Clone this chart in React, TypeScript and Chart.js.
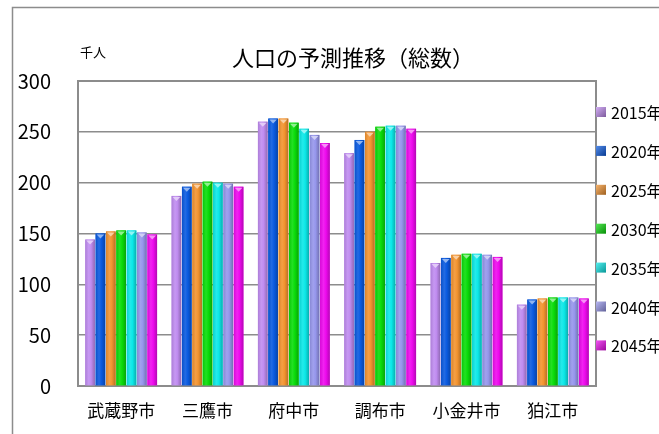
import React, { useEffect, useRef } from "react";
import { Chart, registerables } from "chart.js";

Chart.register(...registerables);

const categories = ["武蔵野市", "三鷹市", "府中市", "調布市", "小金井市", "狛江市"];
const seriesLabels = ["2015年", "2020年", "2025年", "2030年", "2035年", "2040年", "2045年"];
const v2015 = [144, 187, 260, 229, 121, 80];
const v2020 = [150, 196, 263, 242, 126, 85];
const v2025 = [152, 199, 263, 250, 129, 86];
const v2030 = [153, 201, 259, 255, 130, 87];
const v2035 = [153, 200, 253, 256, 130, 87];
const v2040 = [151, 199, 247, 256, 129, 87];
const v2045 = [149, 196, 239, 253, 127, 86];
const seriesValues = [v2015, v2020, v2025, v2030, v2035, v2040, v2045];
const seriesColors = ["#C08CF0", "#0A5AE0", "#F39430", "#0ADC0A", "#0CE8E8", "#9696EC", "#EE0AEE"];
const yTicks = [0, 50, 100, 150, 200, 250, 300];
const titleText = "人口の予測推移（総数）";
const unitText = "千人";

const FONT = "'Noto Sans CJK JP', 'Noto Sans', sans-serif";

function shade(hex: string, f: number) {
  const n = parseInt(hex.slice(1), 16);
  let r = (n >> 16) & 255, g = (n >> 8) & 255, b = n & 255;
  if (f < 0) { r = r * (1 + f); g = g * (1 + f); b = b * (1 + f); }
  else { r = r + (255 - r) * f; g = g + (255 - g) * f; b = b + (255 - b) * f; }
  return `rgb(${Math.round(r)},${Math.round(g)},${Math.round(b)})`;
}

const decorPlugin = {
  id: "decor",
  beforeDraw(chart: any) {
    const ctx = chart.ctx;
    ctx.save();
    ctx.fillStyle = "#ffffff";
    ctx.fillRect(0, 0, chart.width, chart.height);
    ctx.strokeStyle = "#8c8c8c";
    ctx.lineWidth = 1.5;
    ctx.beginPath();
    ctx.moveTo(12.5, chart.height);
    ctx.lineTo(12.5, 7.5);
    ctx.lineTo(chart.width, 7.5);
    ctx.stroke();
    ctx.restore();
  },
  beforeDatasetsDraw(chart: any) {
    const ctx = chart.ctx;
    const a = chart.chartArea;
    ctx.save();
    ctx.strokeStyle = "#8c8c8c";
    ctx.lineWidth = 2;
    ctx.strokeRect(a.left, a.top, a.right - a.left, a.bottom - a.top);
    ctx.restore();
  },
  afterDatasetsDraw(chart: any) {
    const ctx = chart.ctx;
    ctx.save();
    chart.data.datasets.forEach((ds: any, i: number) => {
      const meta = chart.getDatasetMeta(i);
      const col = ds.backgroundColor as string;
      meta.data.forEach((el: any) => {
        const w = el.width;
        const l = el.x - w / 2;
        const top = el.y;
        const bottom = el.base;
        const g = ctx.createLinearGradient(l, 0, l + w, 0);
        g.addColorStop(0, shade(col, -0.1));
        g.addColorStop(0.35, shade(col, 0.1));
        g.addColorStop(0.6, col);
        g.addColorStop(1, shade(col, -0.25));
        ctx.fillStyle = g;
        ctx.fillRect(l, top, w, bottom - top);
        ctx.fillStyle = shade(col, 0.55);
        ctx.beginPath();
        ctx.moveTo(l + 1, top + 1);
        ctx.lineTo(l + w - 1, top + 1);
        ctx.lineTo(el.x, top + 5);
        ctx.closePath();
        ctx.fill();
      });
    });
    ctx.restore();
  },
  afterDraw(chart: any) {
    const ctx = chart.ctx;
    ctx.save();
    ctx.fillStyle = "#000";
    ctx.textBaseline = "middle";
    ctx.textAlign = "center";
    ctx.font = `22px ${FONT}`;
    ctx.fillText(titleText, 353, 58);
    ctx.textAlign = "left";
    ctx.font = `13px ${FONT}`;
    ctx.fillText(unitText, 80, 52);
    ctx.font = `16px ${FONT}`;
    chart.data.datasets.forEach((ds: any, i: number) => {
      const y = 112 + i * 38.9;
      const col = ds.backgroundColor as string;
      const g = ctx.createLinearGradient(596, y - 5, 606, y + 5);
      g.addColorStop(0, shade(col, 0.3));
      g.addColorStop(1, shade(col, -0.35));
      ctx.fillStyle = g;
      ctx.fillRect(596, y - 5, 10, 10);
      ctx.fillStyle = "#000";
      ctx.fillText(ds.label, 611, y + 1);
    });
    ctx.restore();
  },
};

export default function App() {
  const ref = useRef<HTMLCanvasElement | null>(null);
  useEffect(() => {
    if (!ref.current) return;
    const chart = new Chart(ref.current, {
      type: "bar",
      data: {
        labels: categories,
        datasets: seriesLabels.map((label, i) => ({
          label,
          data: seriesValues[i],
          backgroundColor: seriesColors[i],
          borderWidth: 0,
          categoryPercentage: 0.84,
          barPercentage: 0.93,
        })),
      },
      options: {
        responsive: false,
        animation: false,
        devicePixelRatio: 1,
        layout: { padding: { left: 0, top: 81, right: 63, bottom: 0 } },
        plugins: {
          legend: { display: false },
          title: { display: false },
          tooltip: { enabled: false },
        },
        scales: {
          x: {
            grid: { display: false, drawTicks: false },
            border: { display: false },
            ticks: { color: "#000", font: { family: FONT, size: 17 }, padding: 14 },
            afterFit: (axis: any) => { axis.height = 48; },
          },
          y: {
            min: 0,
            max: 300,
            afterBuildTicks: (axis: any) => { axis.ticks = yTicks.map((v) => ({ value: v })); },
            grid: { color: "#8c8c8c", lineWidth: 1.5, drawTicks: false },
            border: { display: false },
            ticks: { color: "#000", font: { family: FONT, size: 20 }, padding: 27 },
            afterFit: (axis: any) => { axis.width = 78; },
          },
        },
      },
      plugins: [decorPlugin],
    });
    return () => chart.destroy();
  }, []);
  return (
    <div style={{ position: "absolute", left: 0, top: 0, width: 659, height: 434 }}>
      <canvas ref={ref} width={659} height={434} style={{ display: "block" }} />
    </div>
  );
}
